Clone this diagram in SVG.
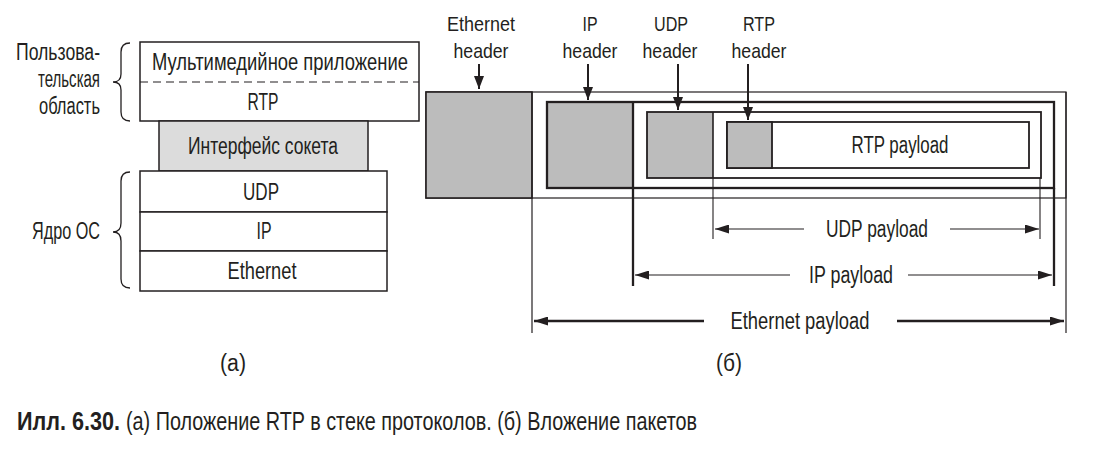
<svg xmlns="http://www.w3.org/2000/svg" width="1095" height="457" viewBox="0 0 1095 457">
<style>
text{font-family:"Liberation Sans",Arial,sans-serif;font-size:23px;fill:#231f20}
.m{text-anchor:middle}
.e{text-anchor:end}
.h{font-size:21px}
.cap{font-size:25px}
.box{fill:#fff;stroke:#231f20;stroke-width:1.5}
.sock{fill:#dcdcdc;stroke:#231f20;stroke-width:1.5}
.hdr{fill:#bcbcbc;stroke:#231f20}
.fr{fill:none;stroke:#231f20}
.ln{stroke:#231f20;fill:none}
.brace{fill:none;stroke:#231f20;stroke-width:1.3}
.b{font-weight:bold}
</style>
<defs>
<marker id="ah" markerUnits="userSpaceOnUse" markerWidth="14" markerHeight="9" refX="14" refY="4.5" orient="auto-start-reverse" viewBox="0 0 14 9">
<path d="M0,0 L14,4.5 L0,9 z" fill="#231f20"/>
</marker>
<marker id="ahd" markerUnits="userSpaceOnUse" markerWidth="13" markerHeight="10" refX="13" refY="5" orient="auto" viewBox="0 0 13 10">
<path d="M0,0 L13,5 L0,10 z" fill="#231f20"/>
</marker>
</defs>
<rect width="1095" height="457" fill="#fff"/>

<!-- (a) protocol stack -->
<g id="user-space">
<rect class="box" x="140" y="42" width="279" height="79"/>
<line class="ln" x1="140" y1="82" x2="419" y2="82" stroke-width="1.2" stroke-dasharray="8,5"/>
<text class="m" x="280" y="70" textLength="256" lengthAdjust="spacingAndGlyphs">Мультимедийное приложение</text>
<text class="m" x="263" y="110" textLength="31" lengthAdjust="spacingAndGlyphs">RTP</text>
</g>
<g id="socket">
<rect class="sock" x="159" y="121" width="209" height="50"/>
<text class="m" x="263" y="154" textLength="150" lengthAdjust="spacingAndGlyphs">Интерфейс сокета</text>
</g>
<g id="udp">
<rect class="box" x="140" y="171" width="247" height="41"/>
<text class="m" x="261" y="200" textLength="36" lengthAdjust="spacingAndGlyphs">UDP</text>
</g>
<g id="ip">
<rect class="box" x="140" y="212" width="247" height="39"/>
<text class="m" x="264" y="239" textLength="15" lengthAdjust="spacingAndGlyphs">IP</text>
</g>
<g id="ethernet">
<rect class="box" x="140" y="251" width="247" height="40"/>
<text class="m" x="262" y="279" textLength="69" lengthAdjust="spacingAndGlyphs">Ethernet</text>
</g>
<g id="user-brace">
<path class="brace" d="M130,43 Q121,43 121,52 L121,74 Q121,82 113,82 Q121,82 121,90 L121,112 Q121,121 130,121"/>
<text class="e" x="100" y="60" textLength="84" lengthAdjust="spacingAndGlyphs">Пользова-</text>
<text class="e" x="100" y="87" textLength="62" lengthAdjust="spacingAndGlyphs">тельская</text>
<text class="e" x="100" y="114" textLength="61" lengthAdjust="spacingAndGlyphs">область</text>
</g>
<g id="kernel-brace">
<path class="brace" d="M130,172 Q121,172 121,181 L121,223 Q121,232 113,232 Q121,232 121,241 L121,279 Q121,288 130,288"/>
<text class="e" x="100" y="239" textLength="68" lengthAdjust="spacingAndGlyphs">Ядро ОС</text>
</g>

<!-- (b) packet nesting -->
<g id="eth-frame">
<rect class="fr" x="426" y="92" width="640" height="106" stroke-width="1.2"/>
<rect class="hdr" x="426" y="92" width="106" height="106" stroke-width="1.6"/>
<line class="ln" x1="532" y1="92" x2="532" y2="333" stroke-width="1.2"/>
<line class="ln" x1="1066" y1="92" x2="1066" y2="333" stroke-width="1.2"/>
<text class="m h" x="481" y="31" textLength="68" lengthAdjust="spacingAndGlyphs">Ethernet</text>
<text class="m h" x="481" y="58" textLength="55" lengthAdjust="spacingAndGlyphs">header</text>
</g>
<g id="ip-frame">
<rect class="hdr" x="547" y="102" width="86" height="86" stroke-width="0"/>
<rect class="fr" x="547" y="102" width="507" height="86" stroke-width="2.3"/>
<line class="ln" x1="633" y1="102" x2="633" y2="286" stroke-width="2.3"/>
<line class="ln" x1="1054" y1="188" x2="1054" y2="286" stroke-width="2.3"/>
<text class="m h" x="590" y="31" textLength="15" lengthAdjust="spacingAndGlyphs">IP</text>
<text class="m h" x="590" y="58" textLength="55" lengthAdjust="spacingAndGlyphs">header</text>
</g>
<g id="udp-frame">
<rect class="hdr" x="647" y="112" width="66" height="66" stroke-width="0"/>
<rect class="fr" x="647" y="112" width="394" height="66" stroke-width="1.8"/>
<line class="ln" x1="713" y1="112" x2="713" y2="178" stroke-width="1.6"/>
<line class="ln" x1="713" y1="178" x2="713" y2="239" stroke-width="1.1"/>
<line class="ln" x1="1040" y1="178" x2="1040" y2="239" stroke-width="1.1"/>
<text class="m h" x="671" y="31" textLength="34" lengthAdjust="spacingAndGlyphs">UDP</text>
<text class="m h" x="670" y="58" textLength="55" lengthAdjust="spacingAndGlyphs">header</text>
</g>
<g id="rtp-frame">
<rect class="fr" x="727" y="122" width="302" height="46" stroke-width="1.8"/>
<rect class="hdr" x="727" y="122" width="45" height="46" stroke-width="1.8"/>
<text class="m h" x="759" y="31" textLength="32" lengthAdjust="spacingAndGlyphs">RTP</text>
<text class="m h" x="759" y="58" textLength="55" lengthAdjust="spacingAndGlyphs">header</text>
<text class="m" x="900" y="153" textLength="97" lengthAdjust="spacingAndGlyphs">RTP payload</text>
</g>
<g id="payload-labels">
<text class="m" x="877" y="237" textLength="102" lengthAdjust="spacingAndGlyphs">UDP payload</text>
<text class="m" x="851" y="283" textLength="84" lengthAdjust="spacingAndGlyphs">IP payload</text>
<text class="m" x="800" y="329" textLength="139" lengthAdjust="spacingAndGlyphs">Ethernet payload</text>
</g>

<g id="connectors">
<line class="ln" x1="479" y1="64" x2="479" y2="89" stroke-width="2" marker-end="url(#ahd)"/>
<line class="ln" x1="588" y1="64" x2="588" y2="100" stroke-width="2" marker-end="url(#ahd)"/>
<line class="ln" x1="678" y1="64" x2="678" y2="110" stroke-width="2" marker-end="url(#ahd)"/>
<line class="ln" x1="748" y1="64" x2="748" y2="120" stroke-width="2" marker-end="url(#ahd)"/>
<line class="ln" x1="804" y1="229" x2="715" y2="229" stroke-width="1.2" marker-end="url(#ah)"/>
<line class="ln" x1="950" y1="229" x2="1039" y2="229" stroke-width="1.2" marker-end="url(#ah)"/>
<line class="ln" x1="790" y1="275" x2="635" y2="275" stroke-width="1.2" marker-end="url(#ah)"/>
<line class="ln" x1="908" y1="275" x2="1052" y2="275" stroke-width="1.2" marker-end="url(#ah)"/>
<line class="ln" x1="704" y1="321" x2="534" y2="321" stroke-width="2.5" marker-end="url(#ah)"/>
<line class="ln" x1="897" y1="321" x2="1064" y2="321" stroke-width="2.5" marker-end="url(#ah)"/>
</g>

<g id="captions">
<text class="m" x="233" y="371" textLength="26" lengthAdjust="spacingAndGlyphs">(а)</text>
<text class="m" x="729" y="371" textLength="26" lengthAdjust="spacingAndGlyphs">(б)</text>
<text class="cap" x="17" y="430"><tspan class="b" textLength="103" lengthAdjust="spacingAndGlyphs">Илл. 6.30.</tspan><tspan x="126" textLength="571" lengthAdjust="spacingAndGlyphs">(а) Положение RTP в стеке протоколов. (б) Вложение пакетов</tspan></text>
</g>
</svg>
